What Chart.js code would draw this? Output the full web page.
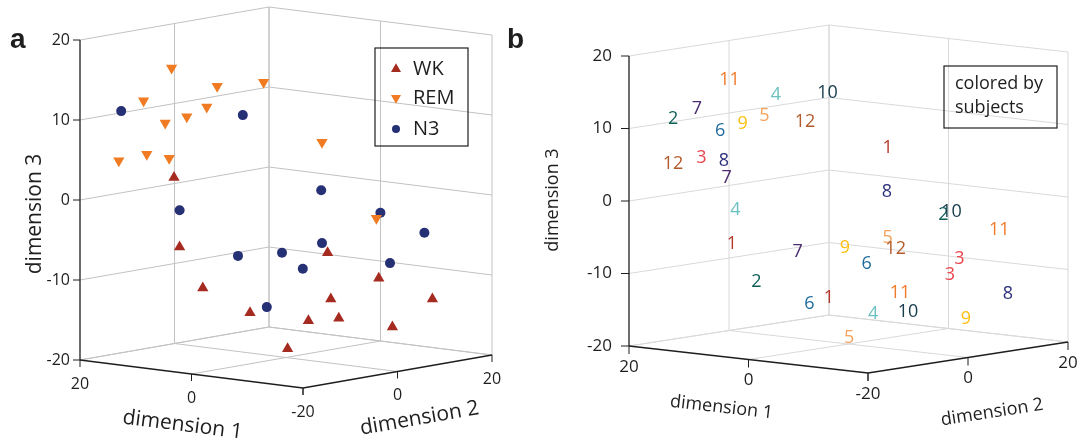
<!DOCTYPE html>
<html>
<head>
<meta charset="utf-8">
<script src="https://cdn.jsdelivr.net/npm/chart.js@4.4.1/dist/chart.umd.min.js"></script>
<style>
  html, body { margin: 0; padding: 0; background: #fff; }
  #wrap { position: relative; width: 1089px; height: 444px; overflow: hidden; }
  #wrap canvas { position: absolute; top: 0; }
  #panelA { left: 0; }
  #panelB { left: 500px; }
</style>
</head>
<body>
<div id="wrap">
  <canvas id="panelA" width="540" height="444"></canvas>
  <canvas id="panelB" width="589" height="444"></canvas>
</div>
<script>
// tick values of the 3D box
const dimTicks = [-20, -10, 0, 10, 20];
const floorTicks = [-20, 0, 20];

// panel a: one marker per recording, grouped by sleep stage
// (h = across the view, v = up the view, both in axis units)
const stageNames = ['WK', 'REM', 'N3'];
const wkH = [-14.0, -13.3, -10.4, -4.5, 0.2, 2.8, 5.6, 6.6, 5.2, 11.6, 13.3, 18.3];
const wkV = [2.5, -6.2, -11.3, -14.4, -18.9, -15.4, -12.7, -15.1, -6.9, -10.1, -16.2, -12.7];
const remH = [-14.3, -17.8, -8.6, -2.8, -9.9, -12.4, -15.1, -20.9, -17.4, -14.6, 4.5, 11.3];
const remV = [16.2, 12.1, 13.9, 14.4, 11.3, 10.1, 9.3, 4.6, 5.4, 4.9, 6.9, -2.6];
const n3H = [-20.6, -5.4, -13.3, -6.0, -0.5, 2.1, -2.4, 4.5, 4.4, 11.8, 17.3, 13.0];
const n3V = [10.8, 10.3, -1.6, -7.3, -6.9, -8.9, -13.7, -5.7, 0.9, -1.9, -4.4, -8.2];

// panel b: the same recordings, labelled by subject number
const subjectIds = [1, 2, 3, 4, 5, 6, 7, 8, 9, 10, 11, 12];
const bSubject = [1, 1, 1, 2, 2, 2, 3, 3, 3, 4, 4, 4, 5, 5, 5, 6, 6, 6,
                  7, 7, 7, 8, 8, 8, 9, 9, 9, 10, 10, 10, 11, 11, 11, 12, 12, 12];
const bH = [-16.1, -2.7, 5.4, -24.2, -12.7, 13.1, -20.3, 15.3, 14.0, -10.0, -15.6, 3.4,
            -11.6, 5.4, 0.1, -17.7, -5.4, 2.5, -20.9, -16.8, -7.0, -17.2, 5.3, 22.0,
            -14.6, -0.5, 16.2, -2.9, 14.2, 8.2, -16.4, 20.8, 7.1, -6.0, -24.2, 6.5];
const bV = [-6.2, -13.6, 7.0, 11.0, -11.4, -2.2, 5.7, -8.3, -10.4, 14.3, -1.5, -15.8,
            11.5, -5.4, -19.1, 9.4, -14.5, -8.9, 12.4, 2.9, -7.3, 5.2, 1.0, -13.1,
            10.4, -6.8, -16.5, 14.7, -1.8, -15.5, 16.4, -4.2, -13.0, 10.6, 4.8, -6.9];

const stageColors = ['#a52a1f', '#f07b22', '#263074'];
const subjectColors = ['#b4392b', '#0f5f58', '#e9464f', '#6cc2c0', '#f5a35c', '#1f6b9b',
                       '#4a2b6e', '#2d3079', '#fcc012', '#163b4b', '#f17a2a', '#b35a2a'];

// oblique view: pixels per unit along dimension 1 and 2, k = pixels per unit up
function makeView(e1, e2, k) {
  return (d1, d2, d3) => ({
    x: (d1 * e1[0] + d2 * e2[0]) / k,
    y: d3 - (d1 * e1[1] + d2 * e2[1]) / k
  });
}

const viewA = { ox: 286, oy: 197.5, k: 8, w: 540, h: 444 };
const viewB = { ox: 348.5, oy: 199, k: 7.25, w: 589, h: 444 };
const projA = makeView([-5.575, -0.7], [4.725, -0.825], viewA.k);
const projB = makeView([-5.975, -0.675], [5, -0.775], viewB.k);

const zip = (hs, vs) => hs.map((h, i) => ({ x: h, y: vs[i] }));

// back walls and floor of the box, plus the three dark axis edges
function boxDatasets(P, gridColor) {
  const lo = -20, hi = 20;
  const grid = [];
  dimTicks.forEach(t => {
    grid.push([P(hi, lo, t), P(hi, hi, t)]);
    grid.push([P(hi, hi, t), P(lo, hi, t)]);
  });
  floorTicks.forEach(t => {
    if (t !== lo) grid.push([P(hi, t, lo), P(hi, t, hi)]);
    grid.push([P(t, hi, lo), P(t, hi, hi)]);
    if (t !== lo) grid.push([P(t, lo, lo), P(t, hi, lo)]);
    if (t !== lo) grid.push([P(hi, t, lo), P(lo, t, lo)]);
  });
  const axes = [
    [P(hi, lo, lo), P(hi, lo, hi)],
    [P(hi, lo, lo), P(lo, lo, lo)],
    [P(lo, lo, lo), P(lo, hi, lo)]
  ];
  const line = (pts, color, width, order) => ({
    data: pts, showLine: true, borderColor: color, borderWidth: width,
    pointRadius: 0, fill: false, order: order
  });
  return grid.map(s => line(s, gridColor, 1, 10))
    .concat(axes.map(s => line(s, '#1e1e1e', 1.3, 9)));
}

function seg(ctx, x1, y1, x2, y2) {
  ctx.beginPath();
  ctx.moveTo(x1, y1);
  ctx.lineTo(x2, y2);
  ctx.stroke();
}

// tick marks, tick labels, axis titles, legend box and panel letter
const frame = {
  id: 'frame',
  afterDatasetsDraw(chart, args, o) {
    const ctx = chart.ctx;
    const at = (d1, d2, d3) => {
      const p = o.project(d1, d2, d3);
      return [chart.scales.x.getPixelForValue(p.x), chart.scales.y.getPixelForValue(p.y)];
    };
    ctx.save();
    ctx.strokeStyle = '#1e1e1e';
    ctx.fillStyle = '#1e1e1e';
    ctx.lineWidth = 1;
    ctx.font = o.tickFont;

    ctx.textAlign = 'right';
    ctx.textBaseline = 'middle';
    dimTicks.forEach(t => {
      const [x, y] = at(20, -20, t);
      seg(ctx, x - o.tickLen, y, x, y);
      ctx.fillText(String(t), x - o.tickLen - o.labelGap, y);
    });

    ctx.textAlign = 'center';
    floorTicks.forEach(t => {
      let [x, y] = at(t, -20, -20);
      seg(ctx, x, y, x, y + o.tickLen);
      ctx.fillText(String(t), x, y + o.bottomGap);
      [x, y] = at(-20, t, -20);
      seg(ctx, x, y, x, y + o.tickLen);
      if (t !== -20) ctx.fillText(String(t), x, y + o.bottomGap);
    });

    const title = (text, anchor, off, a, b) => {
      const ang = Math.atan2(b[1] - a[1], b[0] - a[0]);
      ctx.save();
      ctx.translate(anchor[0] + off[0], anchor[1] + off[1]);
      ctx.rotate(ang);
      ctx.fillText(text, 0, 0);
      ctx.restore();
    };
    ctx.font = o.titleFont;
    title('dimension 1', at(0, -20, -20), o.d1Title, at(20, -20, -20), at(-20, -20, -20));
    title('dimension 2', at(-20, 0, -20), o.d2Title, at(-20, -20, -20), at(-20, 20, -20));
    title('dimension 3', at(20, -20, 0), o.d3Title, [0, 1], [0, 0]);

    // legend box
    const L = o.legend;
    ctx.lineWidth = 1.2;
    ctx.strokeRect(L.x, L.y, L.w, L.h);
    ctx.font = L.font;
    ctx.textAlign = 'left';
    L.rows.forEach(r => {
      if (r.color) {
        ctx.fillStyle = r.color;
        Chart.helpers.drawPoint(ctx, { pointStyle: r.style, rotation: r.rotation, radius: r.radius, borderWidth: 0 }, L.markX, r.y);
      }
      ctx.fillStyle = '#1e1e1e';
      ctx.fillText(r.text, L.textX, r.y);
    });

    ctx.font = 'bold 28px "Liberation Sans", Arial, sans-serif';
    ctx.textBaseline = 'alphabetic';
    ctx.fillText(o.letter, o.letterX, 48);
    ctx.restore();
  }
};

// subject numbers drawn at each point of panel b
const numberLabels = {
  id: 'numberLabels',
  afterDatasetsDraw(chart, args, o) {
    const ctx = chart.ctx;
    ctx.save();
    ctx.font = o.font;
    ctx.textAlign = 'center';
    ctx.textBaseline = 'middle';
    chart.data.datasets.forEach((ds, i) => {
      if (!ds.subject) return;
      ctx.fillStyle = ds.subject.color;
      chart.getDatasetMeta(i).data.forEach(el => ctx.fillText(String(ds.subject.id), el.x, el.y));
    });
    ctx.restore();
  }
};

function viewScales(v) {
  return {
    x: { type: 'linear', display: false, min: -v.ox / v.k, max: (v.w - v.ox) / v.k },
    y: { type: 'linear', display: false, min: (v.oy - v.h) / v.k, max: v.oy / v.k }
  };
}

const baseOptions = {
  responsive: false,
  animation: false,
  events: [],
  layout: { padding: 0, autoPadding: false }
};

// ---- panel a
const stageData = [zip(wkH, wkV), zip(remH, remV), zip(n3H, n3V)];
const stageStyle = [
  { pointStyle: 'triangle', rotation: 0, radius: 6.5 },
  { pointStyle: 'triangle', rotation: 180, radius: 6.5 },
  { pointStyle: 'circle', rotation: 0, radius: 5 }
];
const stageSets = stageNames.map((name, i) => ({
  label: name,
  data: stageData[i],
  pointStyle: stageStyle[i].pointStyle,
  pointRotation: stageStyle[i].rotation,
  pointRadius: stageStyle[i].radius,
  pointBackgroundColor: stageColors[i],
  pointBorderColor: stageColors[i],
  pointBorderWidth: 0,
  showLine: false,
  order: 0
}));

new Chart(document.getElementById('panelA'), {
  type: 'scatter',
  data: { datasets: stageSets.concat(boxDatasets(projA, '#c2c2c2')) },
  options: Object.assign({}, baseOptions, {
    scales: viewScales(viewA),
    plugins: {
      legend: { display: false },
      tooltip: { enabled: false },
      frame: {
        project: projA,
        tickFont: '16px "Open Sans", sans-serif',
        titleFont: '21px "Open Sans", sans-serif',
        tickLen: 7, labelGap: 3, bottomGap: 24,
        d1Title: [-9, 51], d2Title: [22, 47], d3Title: [-45, 14],
        letter: 'a', letterX: 10,
        legend: {
          x: 375, y: 48, w: 93, h: 98, markX: 396, textX: 413,
          font: '20px "Open Sans", sans-serif',
          rows: stageNames.map((name, i) => ({
            text: name, y: [69, 98, 129][i], color: stageColors[i],
            style: stageStyle[i].pointStyle, rotation: stageStyle[i].rotation,
            radius: [5.8, 5.8, 4][i]
          }))
        }
      }
    }
  }),
  plugins: [frame]
});

// ---- panel b
const subjectSets = subjectIds.map((id, i) => {
  const idx = bSubject.map((s, j) => (s === id ? j : -1)).filter(j => j >= 0);
  return {
    label: String(id),
    subject: { id: id, color: subjectColors[i] },
    data: idx.map(j => ({ x: bH[j], y: bV[j] })),
    pointRadius: 0,
    showLine: false,
    order: 0
  };
});

new Chart(document.getElementById('panelB'), {
  type: 'scatter',
  data: { datasets: subjectSets.concat(boxDatasets(projB, '#d9d9d9')) },
  options: Object.assign({}, baseOptions, {
    scales: viewScales(viewB),
    plugins: {
      legend: { display: false },
      tooltip: { enabled: false },
      numberLabels: { font: '18px "Open Sans", sans-serif' },
      frame: {
        project: projB,
        tickFont: '17px "Open Sans", sans-serif',
        titleFont: '18px "Open Sans", sans-serif',
        tickLen: 8, labelGap: 9, bottomGap: 21,
        d1Title: [-27, 48], d2Title: [24, 55], d3Title: [-76, -1],
        letter: 'b', letterX: 7,
        legend: {
          x: 444, y: 66, w: 113, h: 62, markX: 0, textX: 455,
          font: '18px "Open Sans", sans-serif',
          rows: [
            { text: 'colored by', y: 84 },
            { text: 'subjects', y: 108 }
          ]
        }
      }
    }
  }),
  plugins: [numberLabels, frame]
});
</script>
</body>
</html>
